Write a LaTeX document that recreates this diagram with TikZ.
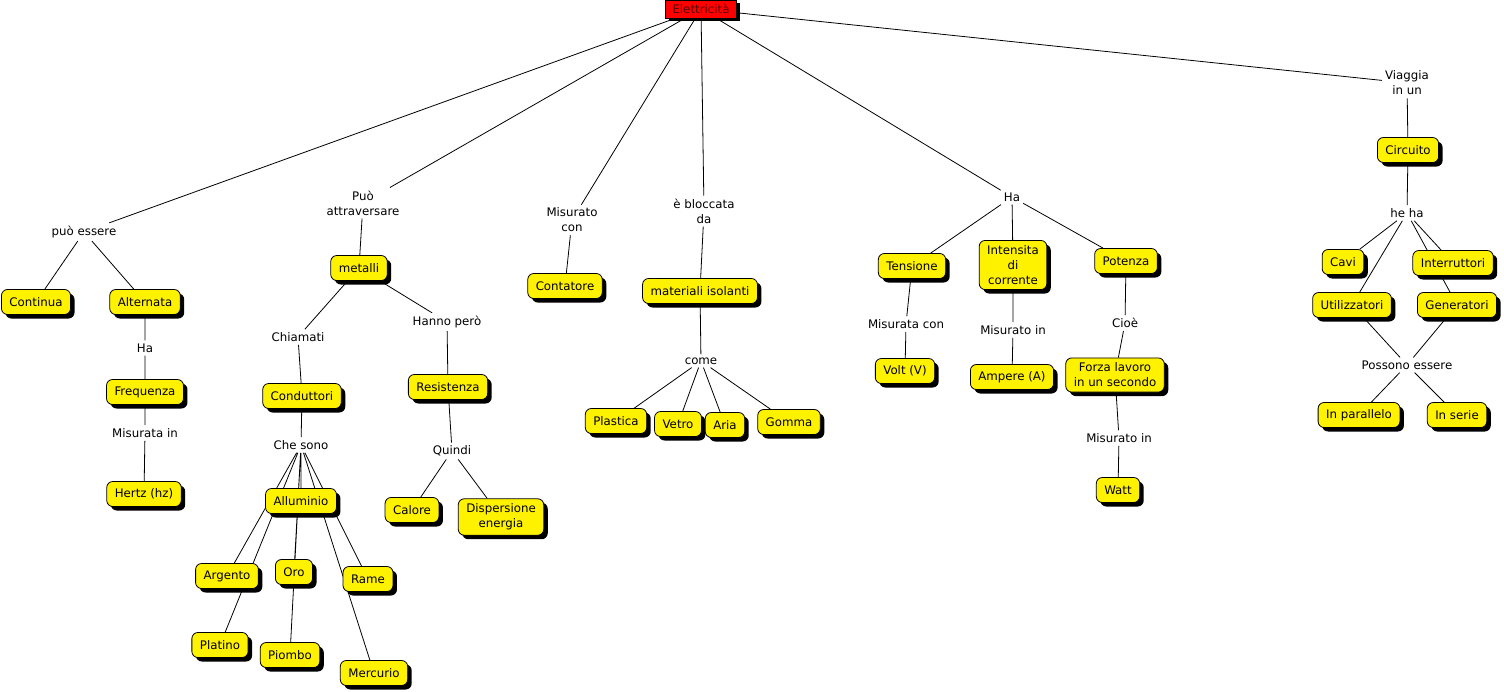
\documentclass[tikz,border=0pt]{standalone}
\usepackage{fontspec}
\setmainfont{DejaVu Sans}
\usetikzlibrary{shadows,backgrounds}

\tikzstyle{concept} = [draw, line width=0.8pt, fill=yellow, rounded corners=6pt, align=center, inner xsep=8pt, inner ysep=5pt, minimum height=25pt, drop shadow={shadow xshift=4pt, shadow yshift=-4pt, fill=black, opacity=1}]
\tikzstyle{headbox} = [draw, line width=0.8pt, fill=red, text=red!35!black, inner xsep=7pt, inner ysep=2pt, minimum height=18pt, drop shadow={shadow xshift=3pt, shadow yshift=-3pt, fill=black, opacity=1}]
\tikzstyle{phrase} = [align=center, inner sep=3pt]
\tikzstyle{link} = [line width=0.8pt]

\begin{document}
\begin{tikzpicture}[x=1pt, y=-1pt, every node/.style={font=\fontsize{11.8}{15}\selectfont}]
\useasboundingbox (0,0) rectangle (1504,691);
\node[headbox] (elet) at (701,9) {Elettricità};

\node[phrase] (puoess) at (84,232) {può essere};
\node[concept] (continua) at (36,302) {Continua};
\node[concept] (alternata) at (145,302) {Alternata};
\node[phrase] (ha1) at (145,348) {Ha};
\node[concept] (freq) at (145,392) {Frequenza};
\node[phrase] (misin1) at (145,433) {Misurata in};
\node[concept] (hertz) at (144,494) {Hertz (hz)};

\node[phrase] (attrav) at (363,203) {Può\\attraversare};
\node[concept] (metalli) at (359,268) {metalli};
\node[phrase] (chiamati) at (298,337) {Chiamati};
\node[phrase] (hanno) at (447,322) {Hanno però};
\node[concept] (condut) at (302,396) {Conduttori};
\node[concept] (resist) at (448,387) {Resistenza};
\node[phrase] (chesono) at (301,445) {Che sono};
\node[phrase] (quindi) at (452,451) {Quindi};
\node[concept] (allum) at (301,501) {Alluminio};
\node[concept] (argento) at (227,576) {Argento};
\node[concept] (oro) at (294,572) {Oro};
\node[concept] (rame) at (368,579) {Rame};
\node[concept] (platino) at (220,645) {Platino};
\node[concept] (piombo) at (290,655) {Piombo};
\node[concept] (mercurio) at (374,673) {Mercurio};
\node[concept] (calore) at (412,510) {Calore};
\node[concept] (dispers) at (501,517) {Dispersione\\energia};

\node[phrase] (misucon) at (572,220) {Misurato\\con};
\node[concept] (contat) at (565,286) {Contatore};
\node[phrase] (bloccata) at (704,211) {è bloccata\\da};
\node[concept] (isolanti) at (700,291) {materiali isolanti};
\node[phrase] (come) at (701,361) {come};
\node[concept] (plastica) at (616,421) {Plastica};
\node[concept] (vetro) at (678,424) {Vetro};
\node[concept] (aria) at (725,425) {Aria};
\node[concept] (gomma) at (789,422) {Gomma};

\node[phrase] (ha2) at (1012,197) {Ha};
\node[concept] (tensione) at (912,266) {Tensione};
\node[concept] (intens) at (1013,265) {Intensita\\di\\corrente};
\node[concept] (potenza) at (1126,261) {Potenza};
\node[phrase] (misurcon) at (906,324) {Misurata con};
\node[phrase] (misin2) at (1013,330) {Misurato in};
\node[phrase] (cioe) at (1125,323) {Cioè};
\node[concept] (volt) at (905,371) {Volt (V)};
\node[concept] (ampere) at (1012,377) {Ampere (A)};
\node[concept] (forza) at (1115,375) {Forza lavoro\\in un secondo};
\node[phrase] (misin3) at (1119,438) {Misurato in};
\node[concept] (watt) at (1118,490) {Watt};

\node[phrase] (viaggia) at (1407,83) {Viaggia\\in un};
\node[concept] (circuito) at (1408,150) {Circuito};
\node[phrase] (heha) at (1407,213) {he ha};
\node[concept] (cavi) at (1343,262) {Cavi};
\node[concept] (interr) at (1453,263) {Interruttori};
\node[concept] (utiliz) at (1352,305) {Utilizzatori};
\node[concept] (generat) at (1457,305) {Generatori};
\node[phrase] (possono) at (1407,365) {Possono essere};
\node[concept] (parall) at (1359,415) {In parallelo};
\node[concept] (serie) at (1457,415) {In serie};

\begin{pgfonlayer}{background}
\fill[white] (0,0) rectangle (1504,691);
\draw[link] (elet) -- (puoess) (puoess) -- (continua) (puoess) -- (alternata);
\draw[link] (alternata) -- (ha1) -- (freq) -- (misin1) -- (hertz);
\draw[link] (elet) -- (attrav) -- (metalli);
\draw[link] (metalli) -- (chiamati) -- (condut) -- (chesono);
\draw[link] (chesono) -- (allum) (chesono) -- (argento) (chesono) -- (platino)
    (chesono) -- (oro) (chesono) -- (piombo) (chesono) -- (rame) (chesono) -- (mercurio);
\draw[link] (metalli) -- (hanno) -- (resist) -- (quindi);
\draw[link] (quindi) -- (calore) (quindi) -- (dispers);
\draw[link] (elet) -- (misucon) -- (contat);
\draw[link] (elet) -- (bloccata) -- (isolanti) -- (come);
\draw[link] (come) -- (plastica) (come) -- (vetro) (come) -- (aria) (come) -- (gomma);
\draw[link] (elet) -- (ha2);
\draw[link] (ha2) -- (tensione) (ha2) -- (intens) (ha2) -- (potenza);
\draw[link] (tensione) -- (misurcon) -- (volt);
\draw[link] (intens) -- (misin2) -- (ampere);
\draw[link] (potenza) -- (cioe) -- (forza) -- (misin3) -- (watt);
\draw[link] (elet) -- (viaggia) -- (circuito) -- (heha);
\draw[link] (heha) -- (cavi) (heha) -- (utiliz) (heha) -- (interr) (heha) -- (generat);
\draw[link] (utiliz) -- (possono) (generat) -- (possono);
\draw[link] (possono) -- (parall) (possono) -- (serie);
\end{pgfonlayer}
\end{tikzpicture}
\end{document}
